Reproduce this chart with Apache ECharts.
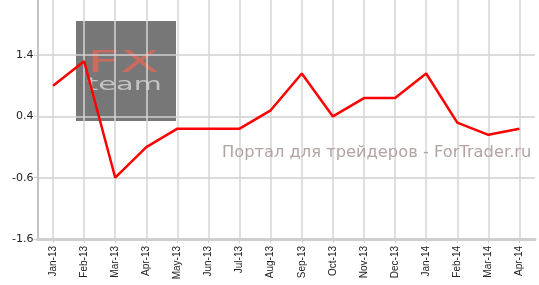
<!DOCTYPE html>
<html>
<head>
<meta charset="utf-8">
<script src="https://cdn.jsdelivr.net/npm/echarts@6/dist/echarts.min.js"></script>
<style>html,body{margin:0;padding:0;background:#fff;}#c{width:539px;height:285px;}</style>
</head>
<body>
<div id="c"></div>
<script>
var categories = ['Jan-13','Feb-13','Mar-13','Apr-13','May-13','Jun-13','Jul-13','Aug-13','Sep-13','Oct-13','Nov-13','Dec-13','Jan-14','Feb-14','Mar-14','Apr-14'];
var values = [0.9, 1.3, -0.6, -0.1, 0.2, 0.2, 0.2, 0.5, 1.1, 0.4, 0.7, 0.7, 1.1, 0.3, 0.1, 0.2];
var yMin = -1.6, yMax = 2.3, yStep = 1;
var watermark = 'Портал для трейдеров - ForTrader.ru';

var chart = echarts.init(document.getElementById('c'), null, {renderer: 'canvas'});
chart.setOption({
  animation: false,
  backgroundColor: '#fff',
  grid: {left: 37.5, right: 4, top: 0, bottom: 46, containLabel: false},
  xAxis: {
    type: 'category',
    data: categories,
    boundaryGap: true,
    axisLine: {onZero: false, lineStyle: {color: '#cfcfcf', width: 3}},
    axisTick: {show: true, alignWithLabel: true, length: 4, lineStyle: {color: '#cfcfcf', width: 1}},
    axisLabel: {rotate: 90, margin: 7, fontSize: 10, fontFamily: 'Liberation Sans', color: '#222', interval: 0},
    splitLine: {show: true, alignWithLabel: true, lineStyle: {color: '#d4d4d4', width: 1.5}}
  },
  yAxis: {
    type: 'value',
    min: yMin, max: yMax, interval: yStep,
    axisLine: {show: true, lineStyle: {color: '#c4c4c4', width: 2}},
    axisTick: {show: true, length: 4, lineStyle: {color: '#cfcfcf'}},
    axisLabel: {margin: 4, fontSize: 11, fontFamily: 'DejaVu Sans', color: '#222', showMaxLabel: false,
      formatter: function (v) { return Math.abs(v - yMax) < 1e-9 ? '' : v.toFixed(1); }},
    splitLine: {show: true, showMaxLine: false, lineStyle: {color: '#cfcfcf', width: 1.5}}
  },
  graphic: [
    {type: 'rect', z: -10, shape: {x: 76, y: 21, width: 100, height: 100}, style: {fill: '#777777'}},
    {type: 'text', z: -9, x: 87, y: 64, scaleX: 1.85, style: {text: 'FX', font: '31px "DejaVu Sans"', fill: 'rgba(215,105,90,0.85)', verticalAlign: 'middle', align: 'left'}},
    {type: 'text', z: -9, x: 87, y: 85, scaleX: 1.6, style: {text: 'team', font: '18px "DejaVu Sans"', fill: '#c4c4c4', verticalAlign: 'middle', align: 'left'}},
    {type: 'text', z: 5, x: 222, y: 153, scaleX: 1.085, style: {text: watermark, font: '15px "DejaVu Sans"', fill: '#b3a3a3', verticalAlign: 'middle', align: 'left'}}
  ],
  series: [{
    type: 'line',
    data: values,
    symbol: 'none',
    lineStyle: {color: '#ff0000', width: 2.5},
    z: 10
  }]
});
</script>
</body>
</html>
